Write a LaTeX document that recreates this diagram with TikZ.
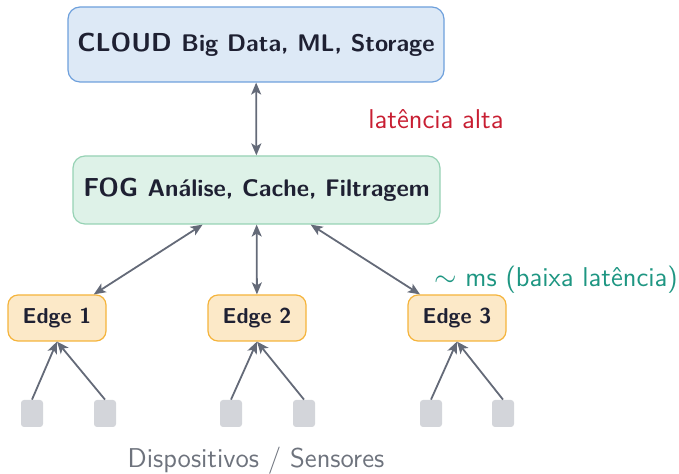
\documentclass[tikz,border=0pt]{standalone}
\usetikzlibrary{arrows.meta}
\definecolor{cloudfill}{RGB}{221,233,246}
\definecolor{cloudline}{RGB}{110,160,220}
\definecolor{fogfill}{RGB}{222,242,232}
\definecolor{fogline}{RGB}{150,210,180}
\definecolor{edgefill}{RGB}{252,233,200}
\definecolor{edgeline}{RGB}{245,180,60}
\definecolor{devfill}{RGB}{211,213,218}
\definecolor{arr}{RGB}{100,106,120}
\definecolor{txt}{RGB}{30,32,50}
\definecolor{redt}{RGB}{200,30,50}
\definecolor{tealt}{RGB}{30,150,130}
\definecolor{grayt}{RGB}{110,115,125}
\begin{document}
\begin{tikzpicture}[x=0.5pt,y=-0.5pt,font=\sffamily,
  tier/.style={draw, rounded corners=6pt, line width=0.6pt, inner sep=0pt, text=txt},
  edgebox/.style={draw=edgeline, fill=edgefill, rounded corners=5pt, line width=0.6pt,
     minimum width=49pt, minimum height=23pt, inner sep=0pt, text=txt,
     font=\sffamily\bfseries\fontsize{10.8}{13}\selectfont},
  dev/.style={fill=devfill, rounded corners=1.5pt, minimum width=11pt, minimum height=13.5pt, inner sep=0pt},
  tip/.tip={Stealth[length=6pt,width=5pt,inset=1.5pt]},
  link/.style={draw=arr, line width=0.9pt, tip-tip},
  uplink/.style={draw=arr, line width=0.9pt, -tip},
  note/.style={font=\sffamily\fontsize{13.6}{16}\selectfont}
]
\useasboundingbox (0,0) rectangle (679,474);
\node[tier, draw=cloudline, fill=cloudfill, minimum width=188pt, minimum height=37.5pt] (cloud) at (256,44.5)
  {\bfseries\fontsize{13}{16}\selectfont CLOUD \large Big Data, ML, Storage};
\node[tier, draw=fogline, fill=fogfill, minimum width=183.5pt, minimum height=34pt] (fog) at (256.5,190)
  {\bfseries\fontsize{13}{16}\selectfont FOG \large Análise, Cache, Filtragem};
\node[edgebox] (e1) at (57,318) {Edge 1};
\node[edgebox] (e2) at (257,318) {Edge 2};
\node[edgebox] (e3) at (457,318) {Edge 3};
\node[dev] (d1) at (32,413.5) {};
\node[dev] (d2) at (105,413.5) {};
\node[dev] (d3) at (231,413.5) {};
\node[dev] (d4) at (304,413.5) {};
\node[dev] (d5) at (431,413.5) {};
\node[dev] (d6) at (503,413.5) {};
\draw[link] (cloud) -- (fog);
\draw[link] (fog) -- (e1);
\draw[link] (fog) -- (e2);
\draw[link] (fog) -- (e3);
\draw[uplink] (d1.north) -- (e1.south);
\draw[uplink] (d2.north) -- (e1.south);
\draw[uplink] (d3.north) -- (e2.south);
\draw[uplink] (d4.north) -- (e2.south);
\draw[uplink] (d5.north) -- (e3.south);
\draw[uplink] (d6.north) -- (e3.south);
\node[note, text=redt] (lat) at (436,119) {latência alta};
\node[note, text=tealt] (low) at (556,280) {$\sim$ ms (baixa latência)};
\node[note, text=grayt] (devs) at (256,461) {Dispositivos / Sensores};
\end{tikzpicture}
\end{document}
